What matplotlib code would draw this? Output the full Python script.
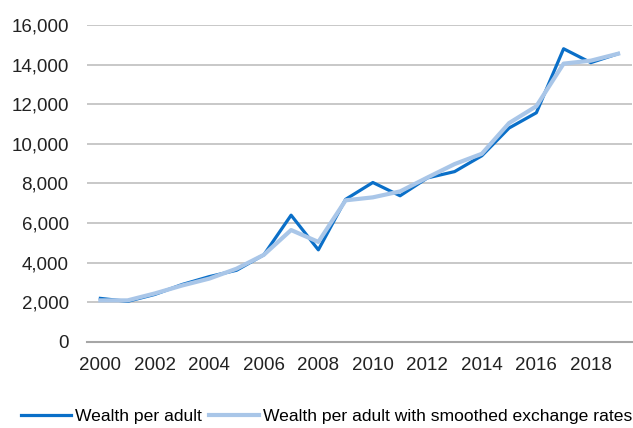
import matplotlib.pyplot as plt
from matplotlib.ticker import FuncFormatter

plt.rcParams['font.family'] = ['Liberation Sans', 'DejaVu Sans']

years = list(range(2000, 2020))
wealth = [2200, 2050, 2400, 2900, 3300, 3620, 4400, 6400, 4650, 7200,
          8050, 7380, 8280, 8600, 9400, 10800, 11570, 14800, 14100, 14550]
wealth_smoothed = [2100, 2100, 2450, 2850, 3200, 3700, 4400, 5650, 5050, 7150,
                   7300, 7600, 8300, 8980, 9500, 11050, 11900, 14050, 14200, 14550]
tick_years = [2000, 2002, 2004, 2006, 2008, 2010, 2012, 2014, 2016, 2018]

fig = plt.figure(figsize=(6.33, 4.28), dpi=100)
ax = fig.add_axes([0.137, 0.201, 0.861, 0.7406])

ax.plot(years, wealth, color='#0a6fc8', lw=2.3, label='Wealth per adult', zorder=3)
ax.plot(years, wealth_smoothed, color='#a9c6e8', lw=3.0,
        label='Wealth per adult with smoothed exchange rates', zorder=4)

ax.set_xlim(1999.5, 2019.5)
ax.set_ylim(0, 16000)
ax.set_yticks(range(0, 16001, 2000))
ax.set_xticks(tick_years)
ax.yaxis.set_major_formatter(FuncFormatter(lambda v, p: f'{int(v):,}'))
ax.grid(axis='y', color='#bfbfbf', lw=1.2)
ax.set_axisbelow(True)
for s in ['top', 'right', 'left']:
    ax.spines[s].set_visible(False)
ax.spines['bottom'].set_color('#a6a6a6')
ax.spines['bottom'].set_linewidth(1.5)
ax.tick_params(axis='both', length=0, labelsize=13.5, colors='#222222')
ax.tick_params(axis='y', pad=13)
ax.tick_params(axis='x', pad=11)

fig.legend(loc='lower left', bbox_to_anchor=(0.022, -0.008), ncol=2, frameon=False,
           fontsize=12.6, handlelength=2.85, handletextpad=0.22, columnspacing=0.45,
           borderaxespad=0)

fig.savefig('out.png', dpi=100)
